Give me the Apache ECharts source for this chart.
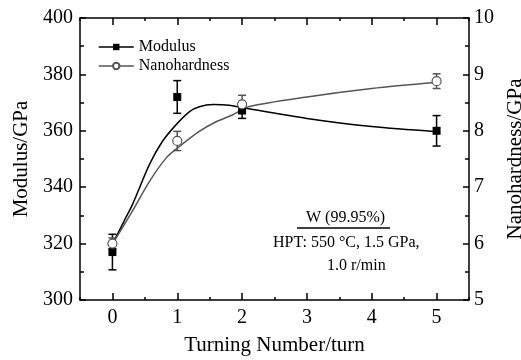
<!DOCTYPE html>
<html>
<head>
<meta charset="utf-8">
<script src="https://cdn.jsdelivr.net/npm/echarts@6/dist/echarts.min.js"></script>
<style>
  html, body { margin: 0; padding: 0; background: #fff; }
  #chart { width: 521px; height: 360px; }
</style>
</head>
<body>
<div id="chart"></div>
<script>
// measured points
const turns = [0, 1, 2, 5];
const modulus = [317, 372, 367.2, 360];
const modulusErr = [6.3, 5.8, 2.8, 5.4];
const hardness = [6.0, 7.82, 8.47, 8.88];
const hardnessErr = [0.1, 0.17, 0.16, 0.13];

// fitted curves
const modFitX = [0, 0.18, 0.31, 0.57, 0.77, 0.98, 1.19, 1.34, 1.55, 1.8, 2.01, 3, 4, 5];
const modFitY = [319.8, 328, 333.9, 348, 356.2, 362.1, 366.8, 368.5, 369.3, 369.1, 368.2, 364.4, 361.5, 359.7];
const hardFitX = [0, 0.31, 0.57, 0.83, 1.03, 1.34, 1.6, 1.85, 2.11, 3, 4, 5];
const hardFitY = [5.99, 6.58, 7.1, 7.52, 7.72, 7.99, 8.16, 8.28, 8.43, 8.6, 8.75, 8.86];

const xTicks = [0, 1, 2, 3, 4, 5];

const font = "'Liberation Serif', 'Times New Roman', serif";
const gray = '#555';

function pairs(xs, ys) {
  return xs.map((x, i) => [x, ys[i]]);
}

function errBars(xs, ys, es) {
  return xs.map((x, i) => [x, ys[i] - es[i], ys[i] + es[i]]);
}

function errorRender(color) {
  return function (params, api) {
    const lo = api.coord([api.value(0), api.value(1)]);
    const hi = api.coord([api.value(0), api.value(2)]);
    const w = 4;
    const style = { stroke: color, lineWidth: 1.5 };
    return {
      type: 'group',
      children: [
        { type: 'line', shape: { x1: lo[0], y1: lo[1], x2: hi[0], y2: hi[1] }, style },
        { type: 'line', shape: { x1: lo[0] - w, y1: lo[1], x2: lo[0] + w, y2: lo[1] }, style },
        { type: 'line', shape: { x1: hi[0] - w, y1: hi[1], x2: hi[0] + w, y2: hi[1] }, style }
      ]
    };
  };
}

const chart = echarts.init(document.getElementById('chart'));

const axisLine = { show: true, onZero: false, lineStyle: { color: '#000', width: 1.5 } };
const tickStyle = { width: 1.5, color: '#000' };

// x axis base: half-unit ticks; a twin axis adds the longer integer ticks
function xAxisBase(position, withLabels) {
  return {
    type: 'value',
    position: position,
    min: -0.5,
    max: 5.5,
    interval: 0.5,
    axisLine: axisLine,
    axisTick: { show: true, inside: true, length: 3, lineStyle: tickStyle },
    axisLabel: withLabels ? {
      fontFamily: font, fontSize: 20, color: '#000', margin: 8,
      formatter: v => (xTicks.indexOf(v) >= 0 ? String(v) : '')
    } : { show: false },
    splitLine: { show: false }
  };
}

function xAxisMajor(position) {
  return {
    type: 'value',
    position: position,
    min: -0.5,
    max: 5.5,
    interval: 0.5,
    axisLine: { show: false, onZero: false },
    axisTick: { show: true, inside: true, length: 7, lineStyle: tickStyle, customValues: xTicks },
    axisLabel: { show: false },
    splitLine: { show: false }
  };
}

const bottomAxis = xAxisBase('bottom', true);
bottomAxis.name = 'Turning Number/turn';
bottomAxis.nameLocation = 'middle';
bottomAxis.nameGap = 35;
bottomAxis.nameTextStyle = { fontFamily: font, fontSize: 21, color: '#000' };

const option = {
  animation: false,
  textStyle: { fontFamily: font, color: '#000' },
  grid: { left: 80, right: 52, top: 18, bottom: 60, outerBoundsMode: 'none', containLabel: false },
  legend: {
    left: 98,
    top: 39,
    padding: 0,
    orient: 'vertical',
    itemWidth: 35,
    itemHeight: 8,
    itemGap: 3,
    textStyle: { fontFamily: font, fontSize: 16, color: '#000' },
    data: [
      { name: 'Modulus', lineStyle: { color: '#000', width: 1.5, opacity: 1 } },
      { name: 'Nanohardness', lineStyle: { color: gray, width: 1.5, opacity: 1 } }
    ]
  },
  xAxis: [
    bottomAxis,
    xAxisBase('top', false),
    xAxisMajor('bottom'),
    xAxisMajor('top')
  ],
  yAxis: [
    {
      type: 'value',
      min: 300,
      max: 400,
      interval: 20,
      name: 'Modulus/GPa',
      nameLocation: 'middle',
      nameGap: 41,
      nameTextStyle: { fontFamily: font, fontSize: 21, color: '#000' },
      axisLine: axisLine,
      axisTick: { show: true, inside: true, length: 6, lineStyle: tickStyle },
      minorTick: { show: true, splitNumber: 2, length: 4, lineStyle: tickStyle },
      axisLabel: { fontFamily: font, fontSize: 20, color: '#000', margin: 7 },
      splitLine: { show: false }
    },
    {
      type: 'value',
      min: 5,
      max: 10,
      interval: 1,
      name: 'Nanohardness/GPa',
      nameLocation: 'middle',
      nameGap: 36,
      nameRotate: 90,
      nameTextStyle: { fontFamily: font, fontSize: 21, color: '#000' },
      axisLine: axisLine,
      axisTick: { show: true, inside: true, length: 6, lineStyle: tickStyle },
      minorTick: { show: true, splitNumber: 2, length: 4, lineStyle: tickStyle },
      axisLabel: { fontFamily: font, fontSize: 20, color: '#000', margin: 5 },
      splitLine: { show: false }
    }
  ],
  series: [
    {
      name: 'ModFit',
      type: 'line',
      smooth: 0.3,
      showSymbol: false,
      data: pairs(modFitX, modFitY),
      lineStyle: { color: '#000', width: 1.5 },
      z: 2
    },
    {
      name: 'HardFit',
      type: 'line',
      yAxisIndex: 1,
      smooth: 0.3,
      showSymbol: false,
      data: pairs(hardFitX, hardFitY),
      lineStyle: { color: gray, width: 1.5 },
      z: 2
    },
    {
      type: 'custom',
      renderItem: errorRender('#000'),
      data: errBars(turns, modulus, modulusErr),
      z: 3
    },
    {
      type: 'custom',
      yAxisIndex: 1,
      renderItem: errorRender(gray),
      data: errBars(turns, hardness, hardnessErr),
      z: 3
    },
    {
      name: 'Modulus',
      type: 'line',
      data: pairs(turns, modulus),
      symbol: 'rect',
      symbolSize: 8,
      itemStyle: { color: '#000' },
      lineStyle: { opacity: 0 },
      z: 4
    },
    {
      name: 'Nanohardness',
      type: 'line',
      yAxisIndex: 1,
      data: pairs(turns, hardness),
      symbol: 'circle',
      symbolSize: 9,
      itemStyle: { color: '#fff', borderColor: gray, borderWidth: 1.2 },
      lineStyle: { opacity: 0 },
      z: 4
    }
  ],
  graphic: [
    {
      type: 'text', left: 306, top: 210,
      style: { text: 'W (99.95%)', font: "16px 'Liberation Serif', serif", fill: '#000' }
    },
    {
      type: 'line', shape: { x1: 297, y1: 228, x2: 390, y2: 228 },
      style: { stroke: '#000', lineWidth: 1.5 }
    },
    {
      type: 'text', left: 273, top: 235,
      style: { text: 'HPT: 550 \u00b0C, 1.5 GPa,', font: "16px 'Liberation Serif', serif", fill: '#000' }
    },
    {
      type: 'text', left: 327, top: 258,
      style: { text: '1.0 r/min', font: "16px 'Liberation Serif', serif", fill: '#000' }
    }
  ]
};

chart.setOption(option);
</script>
</body>
</html>
